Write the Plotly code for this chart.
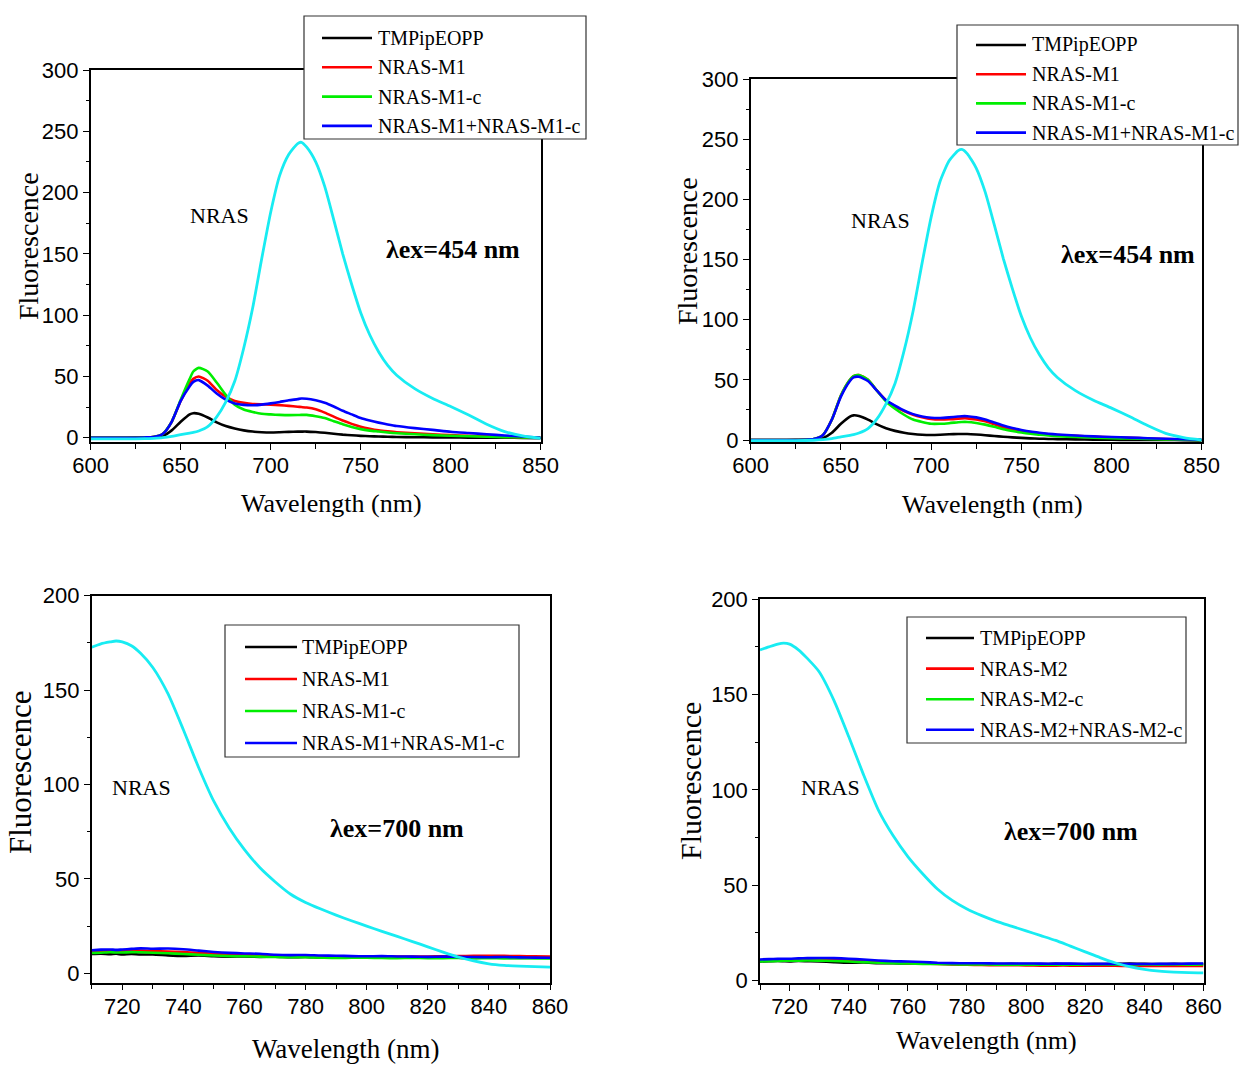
import plotly.graph_objects as go

# ---------------- data ----------------
# excitation at 454 nm, emission 600-850 nm
wl_454 = [600, 610, 620, 630, 635, 640, 645, 650, 655, 657, 660, 665, 670, 675, 680,
          685, 690, 695, 700, 705, 710, 715, 717, 720, 725, 730, 735, 740, 745, 750,
          755, 760, 765, 770, 780, 790, 800, 810, 820, 830, 840, 850]

tmp_a = [0, 0, 0, 0.2, 0.5, 1.5, 6, 13, 19, 20, 19.5, 16.5, 12.5, 9.5, 7.5,
         6, 5, 4.5, 4.3, 4.5, 4.8, 5, 5, 5, 4.6, 4, 3.2, 2.5, 2, 1.5,
         1.2, 1, 0.8, 0.6, 0.4, 0.3, 0.2, 0.1, 0, 0, -0.2, -0.5]
m1_a = [0, 0, 0, 0.2, 0.6, 3, 13, 30, 44, 48, 50, 46.5, 39, 33.5, 30,
        28.5, 27.5, 27.2, 27, 26.6, 26, 25.3, 25, 24.6, 23.2, 20.5, 17.2, 14, 11.3, 9,
        7.3, 6, 5.2, 4.5, 3.5, 2.8, 2.1, 1.6, 1.1, 0.7, 0.3, 0]
m1c_a = [0, 0, 0, 0.2, 0.6, 3, 13, 31, 48, 54, 57, 54, 45, 35, 27,
         23, 21, 19.5, 19, 18.6, 18.4, 18.5, 18.6, 18.6, 17.5, 16, 13.5, 11, 8.8, 7,
         5.8, 5, 4.2, 3.6, 2.8, 2.1, 1.6, 1.2, 0.8, 0.5, 0.2, 0]
mix_a = [0, 0, 0, 0.2, 0.6, 3, 13, 30, 42, 45.5, 47, 42.5, 36, 31, 28,
         26.8, 26.5, 27, 28, 29.2, 30.5, 31.5, 32, 31.8, 30.5, 28.5, 25.5, 22, 19, 16,
         14, 12.3, 10.8, 9.5, 7.8, 6.4, 4.8, 3.8, 2.8, 1.8, 1, 0]
nras_a = [-1, -1, -1, -0.8, -0.5, 0, 1, 2.5, 3.8, 4.3, 5.5, 9, 17, 29, 46,
          73, 106, 146, 184, 214, 231, 240, 241, 237, 225, 205, 178, 150, 125, 102,
          84, 70, 59, 51, 40, 32, 25.5, 18.5, 11, 5, 1.5, -0.5]

tmp_b = [0, 0, 0, 0.2, 0.5, 1.5, 6, 13.5, 19.5, 20.5, 20, 17, 13, 9.8, 7.6,
         6, 5, 4.4, 4.2, 4.4, 4.8, 5, 5, 5, 4.6, 4, 3.3, 2.7, 2.2, 1.8,
         1.4, 1.1, 0.9, 0.7, 0.5, 0.3, 0.2, 0.1, 0, 0, -0.1, -0.3]
m1_b = [0, 0, 0, 0.2, 0.8, 4, 17, 37, 50, 53, 54, 50, 41, 33, 28,
        24, 21, 19, 17.5, 17, 17.2, 17.8, 18, 18, 17, 15.5, 13, 10.5, 8.8, 7.5,
        6.3, 5.5, 4.8, 4.2, 3.4, 2.8, 2.3, 1.8, 1.3, 0.9, 0.5, 0.2]
m1c_b = [0, 0, 0, 0.2, 0.8, 4, 17, 37, 50, 53, 54, 50, 41, 32, 26,
         21, 17, 15, 13.5, 13.5, 14, 14.8, 15, 15, 14.2, 12.8, 11, 9, 7.5, 6.2,
         5.2, 4.5, 3.8, 3.2, 2.5, 2, 1.6, 1.2, 0.8, 0.5, 0.3, 0]
mix_b = [0, 0, 0, 0.2, 0.8, 4, 17, 36, 49, 52, 52.5, 49, 41, 33, 28.5,
         24.5, 21.5, 19.5, 18.5, 18.3, 18.8, 19.5, 19.8, 19.8, 18.8, 17, 14.5, 12, 10, 8.4,
         7, 6, 5.2, 4.6, 3.7, 3, 2.5, 2, 1.5, 1, 0.6, 0.2]
nras_b = [-0.5, -0.5, -0.5, -0.4, -0.2, 0.3, 1.2, 2.6, 3.9, 4.5, 5.8, 9.5, 17.5, 30, 47,
          74, 107, 147, 185, 215, 232, 240.5, 241.5, 238, 226, 206, 179, 151, 126, 103,
          85, 71, 60, 52, 41, 33, 26.5, 19.5, 12, 5.5, 2, 0]

# excitation at 700 nm, emission 710-860 nm
wl_700 = [710, 713, 716, 718, 720, 723, 726, 730, 735, 740, 745, 750, 755, 760, 765,
          770, 775, 780, 785, 790, 795, 800, 805, 810, 815, 820, 825, 830, 835, 840,
          845, 850, 855, 860]

tmp_c = [10.2, 10.4, 10.1, 10.3, 10, 10.2, 9.9, 10, 9.5, 9.2, 9.4, 9, 8.8, 8.9, 8.7,
         8.8, 8.5, 8.6, 8.3, 8.4, 8.2, 8.4, 8.3, 8.2, 8.4, 8.2, 8.3, 8.2, 8.1, 8.3,
         8.2, 8.1, 8.2, 8.1]
m1_c = [11.5, 11.8, 12, 11.9, 11.8, 12.1, 12, 11.8, 11.5, 11.2, 10.8, 10.3, 9.9, 9.6, 9.4,
        9.2, 9, 8.9, 8.8, 8.8, 8.9, 9, 8.9, 8.8, 8.8, 8.9, 9, 9.1, 9.2, 9.3,
        9.2, 9.1, 9, 8.9]
m1c_c = [10.8, 10.9, 11.1, 11, 11, 11.2, 11.1, 10.9, 10.6, 10.2, 9.8, 9.4, 9.1, 9, 8.8,
         8.6, 8.5, 8.5, 8.3, 8.1, 8.2, 8.2, 8.1, 8, 8.1, 8, 8, 8.1, 8, 8,
         7.9, 8, 7.9, 7.9]
mix_c = [12.2, 12.5, 12.6, 12.4, 12.6, 12.9, 13.2, 13, 13.1, 12.7, 12, 11.3, 10.8, 10.5, 10.3,
         9.8, 9.6, 9.7, 9.4, 9.3, 9.1, 9, 9.1, 8.9, 8.8, 8.7, 8.8, 8.7, 8.6, 8.5,
         8.6, 8.4, 8.3, 8.2]
nras_c = [172.7, 174.5, 175.5, 176, 175.5, 173.5, 169.5, 162, 148, 129, 109, 91, 77, 65.5, 56,
          48.5, 42, 37.5, 34, 30.8, 27.8, 25, 22.2, 19.5, 16.8, 14, 11.2, 8.6, 6.5, 5,
          4.2, 3.8, 3.5, 3.3]

tmp_d = [10, 10.1, 10.2, 10.1, 10, 10.2, 10.1, 10, 9.6, 9.3, 9.4, 9.1, 9, 8.9, 8.9,
         8.8, 8.7, 8.8, 8.7, 8.6, 8.7, 8.6, 8.6, 8.7, 8.6, 8.5, 8.6, 8.7, 8.8, 8.7,
         8.6, 8.7, 8.6, 8.6]
m2_d = [10.5, 10.6, 10.8, 10.9, 10.8, 11, 11.1, 11, 10.8, 10.5, 10.1, 9.7, 9.4, 9.1, 8.9,
        8.6, 8.4, 8.2, 8.1, 8, 8, 7.9, 7.8, 7.8, 7.8, 7.7, 7.7, 7.7, 7.6, 7.7,
        7.6, 7.6, 7.6, 7.6]
m2c_d = [10, 10.1, 10.2, 10.3, 10.3, 10.4, 10.5, 10.4, 10.2, 9.9, 9.6, 9.3, 9, 8.9, 8.7,
         8.6, 8.5, 8.4, 8.4, 8.3, 8.3, 8.3, 8.3, 8.2, 8.3, 8.3, 8.4, 8.3, 8.3, 8.4,
         8.3, 8.4, 8.3, 8.4]
mix_d = [11, 11.2, 11.3, 11.4, 11.4, 11.6, 11.7, 11.8, 11.7, 11.4, 11, 10.5, 10.1, 9.9, 9.7,
         9.3, 9.1, 9, 9, 8.9, 8.9, 8.9, 8.8, 8.8, 8.8, 8.7, 8.7, 8.7, 8.6, 8.6,
         8.7, 8.7, 8.8, 8.9]
nras_d = [173.4, 175, 176.5, 177, 176.5, 173.5, 169, 162, 147, 128, 108, 89.5, 76, 65, 56,
          48, 42, 37.5, 34, 31, 28.5, 26, 23.5, 21, 18, 15, 12, 9.3, 7.2, 5.8,
          4.9, 4.4, 4.1, 4]

names_m1 = ["TMPipEOPP", "NRAS-M1", "NRAS-M1-c", "NRAS-M1+NRAS-M1-c"]
names_m2 = ["TMPipEOPP", "NRAS-M2", "NRAS-M2-c", "NRAS-M2+NRAS-M2-c"]
colors = ["#000000", "#FF0000", "#00EE00", "#0000FF"]
nras_color = "#18ECF2"

# ---------------- layout helpers ----------------
W, H = 1239, 1066
SERIF = "Liberation Serif, Times New Roman, serif"
SANS = "Liberation Sans Narrow, Arial Narrow, Liberation Sans, Arial, sans-serif"


def px(x):
    return x / W


def py(y):
    return 1 - y / H


panels = [
    dict(x=wl_454, series=[tmp_a, m1_a, m1c_a, mix_a], nras=nras_a, names=names_m1,
         box=(90.7, 70, 540.7, 442), xr=[600, 850], xt0=600, xdt=50, xminor=25,
         yr=[-3.5, 300], label="λex=454 nm",
         nras_pos=(219, 215), lam_pos=(453, 250), xtitle=(331, 503), ytitle=(28, 246),
         ytsize=28, xtsize=26,
         leg=dict(box=(304, 16, 586, 139), y0=38, dy=29.3, lx=(322, 372), tx=376)),
    dict(x=wl_454, series=[tmp_b, m1_b, m1c_b, mix_b], nras=nras_b, names=names_m1,
         box=(750.7, 79, 1201.7, 442.3), xr=[600, 850], xt0=600, xdt=50, xminor=25,
         yr=[-1.9, 300], label="λex=454 nm",
         nras_pos=(880, 221), lam_pos=(1128, 255), xtitle=(992, 505), ytitle=(688, 251),
         ytsize=28, xtsize=26,
         leg=dict(box=(957, 25, 1238, 145), y0=45, dy=29.2, lx=(976, 1026), tx=1030)),
    dict(x=wl_700, series=[tmp_c, m1_c, m1c_c, mix_c], nras=nras_c, names=names_m1,
         box=(91.7, 595.7, 550, 982.7), xr=[710, 860], xt0=720, xdt=20, xminor=10,
         yr=[-5, 200], label="λex=700 nm",
         nras_pos=(141, 787), lam_pos=(397, 828), xtitle=(346, 1049), ytitle=(20, 772),
         ytsize=31, xtsize=27,
         leg=dict(box=(225, 625, 519, 757), y0=647, dy=32, lx=(245, 297), tx=300)),
    dict(x=wl_700, series=[tmp_d, m2_d, m2c_d, mix_d], nras=nras_d, names=names_m2,
         box=(760, 599.3, 1203.5, 983.3), xr=[710, 860], xt0=720, xdt=20, xminor=10,
         yr=[-1.5, 200], label="λex=700 nm",
         nras_pos=(830, 787), lam_pos=(1071, 831), xtitle=(986, 1040), ytitle=(690, 781),
         ytsize=30, xtsize=26,
         leg=dict(box=(907, 617, 1186, 743), y0=638, dy=30.6, lx=(926, 974), tx=978)),
]

fig = go.Figure()
shapes = []
annotations = []
layout_axes = {}


def label(x, y, text, size, **kw):
    base = dict(x=px(x), y=py(y), xref="paper", yref="paper", text=text, showarrow=False,
                xanchor="center", yanchor="middle",
                font=dict(family=SERIF, size=size, color="black"))
    base.update(kw)
    return base


for i, p in enumerate(panels, start=1):
    sfx = "" if i == 1 else str(i)
    xref, yref = "x" + sfx, "y" + sfx
    x0, y0, x1, y1 = p["box"]

    for vals, name, col in zip(p["series"], p["names"], colors):
        fig.add_trace(go.Scatter(x=p["x"], y=vals, mode="lines", name=name,
                                 line=dict(color=col, width=2.6, shape="spline", smoothing=0.6),
                                 xaxis=xref, yaxis=yref, showlegend=False))
    fig.add_trace(go.Scatter(x=p["x"], y=p["nras"], mode="lines", name="NRAS",
                             line=dict(color=nras_color, width=2.8, shape="spline", smoothing=0.6),
                             xaxis=xref, yaxis=yref, showlegend=False))

    common = dict(showline=True, linecolor="black", linewidth=1.5, mirror=True,
                  showgrid=False, zeroline=False, ticks="outside", ticklen=6,
                  tickwidth=1.3, tickcolor="black", automargin=False,
                  tickfont=dict(family=SANS, size=22, color="black"))
    layout_axes["xaxis" + sfx] = dict(
        common, domain=[px(x0), px(x1)], range=p["xr"], anchor=yref,
        tick0=p["xt0"], dtick=p["xdt"], ticklabelstandoff=-3,
        minor=dict(dtick=p["xminor"], ticks="outside", ticklen=5, tickwidth=1.2,
                   tickcolor="black", showgrid=False))
    layout_axes["yaxis" + sfx] = dict(
        common, domain=[py(y1), py(y0)], range=p["yr"], anchor=xref,
        tick0=0, dtick=50, ticklabelstandoff=0,
        minor=dict(dtick=25, ticks="outside", ticklen=3, tickwidth=1.2,
                   tickcolor="black", showgrid=False))

    # text labels inside the panel
    annotations.append(label(*p["nras_pos"], "NRAS", 22))
    annotations.append(label(*p["lam_pos"], "<b>" + p["label"] + "</b>", 26))
    # axis titles
    annotations.append(label(*p["xtitle"], "Wavelength (nm)", p["xtsize"]))
    annotations.append(label(*p["ytitle"], "Fluorescence", p["ytsize"], textangle=-90))

    # legend box for the four labelled series
    lg = p["leg"]
    bx0, by0, bx1, by1 = lg["box"]
    shapes.append(dict(type="rect", xref="paper", yref="paper", x0=px(bx0), x1=px(bx1),
                       y0=py(by1), y1=py(by0), fillcolor="white",
                       line=dict(color="#333333", width=1.2), layer="above"))
    for k, (name, col) in enumerate(zip(p["names"], colors)):
        yy = lg["y0"] + k * lg["dy"]
        shapes.append(dict(type="line", xref="paper", yref="paper",
                           x0=px(lg["lx"][0]), x1=px(lg["lx"][1]), y0=py(yy), y1=py(yy),
                           line=dict(color=col, width=2.6), layer="above"))
        annotations.append(label(lg["tx"], yy, name, 20, xanchor="left"))

fig.update_layout(
    width=W, height=H, autosize=False,
    margin=dict(l=0, r=0, t=0, b=0, pad=0, autoexpand=False),
    paper_bgcolor="white", plot_bgcolor="white",
    showlegend=False,
    shapes=shapes, annotations=annotations,
    **layout_axes,
)

fig.write_html("out.html")
